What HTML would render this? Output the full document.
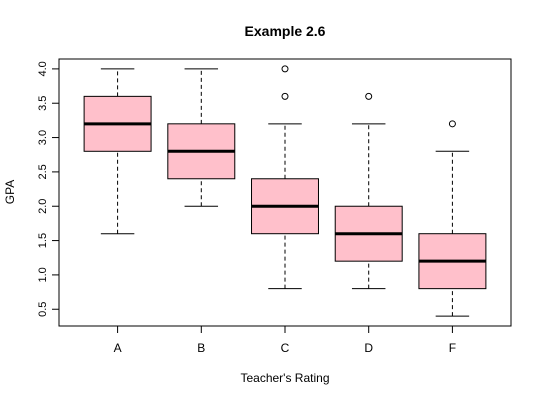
<!DOCTYPE html>
<html><head><meta charset="utf-8"><style>
body{margin:0;background:#fff}
svg{display:block;font-family:"Liberation Sans",sans-serif}
</style></head><body>
<svg id="chart" width="540" height="400">
<text x="285" y="36" text-anchor="middle" font-size="14" font-weight="bold">Example 2.6</text>
<text x="285" y="382" text-anchor="middle" font-size="12">Teacher's Rating</text>
<text transform="translate(14,192) rotate(-90)" text-anchor="middle" font-size="12">GPA</text>
<rect x="59" y="59" width="452" height="267" fill="none" stroke="#000"/>
<g id="marks"></g>
</svg>
<script>
const categories=["A","B","C","D","F"];
const lowWhisker=[1.6,2.0,0.8,0.8,0.4];
const q1=[2.8,2.4,1.6,1.2,0.8];
const medians=[3.2,2.8,2.0,1.6,1.2];
const q3=[3.6,3.2,2.4,2.0,1.6];
const highWhisker=[4.0,4.0,3.2,3.2,2.8];
const outliers=[[],[],[3.6,4.0],[3.6],[3.2]];
const yTicks=[0.5,1.0,1.5,2.0,2.5,3.0,3.5,4.0];
const ns="http://www.w3.org/2000/svg";
const g=document.getElementById('marks');
const px=59,pw=452,pt=59,ph=267;
const yMin=0.256,yMax=4.144,xMin=0.3,xMax=5.7;
function X(i){return px+(i-xMin)/(xMax-xMin)*pw;}
function Y(v){return pt+ph-(v-yMin)/(yMax-yMin)*ph;}
function el(tag,a){const e=document.createElementNS(ns,tag);for(const k in a)e.setAttribute(k,a[k]);g.appendChild(e);return e;}
const unit=pw/(xMax-xMin),bw=0.8*unit,sw=0.4*unit;
// y axis
let e=el('line',{x1:px,x2:px,y1:Y(yTicks[0]),y2:Y(yTicks[yTicks.length-1]),stroke:'#000'});


yTicks.forEach(t=>{
 let l=el('line',{x1:px-7,x2:px,y1:Y(t),y2:Y(t),stroke:'#000'});
 
 
 let tx=el('text',{transform:`translate(${px-13},${Y(t)}) rotate(-90)`,'text-anchor':'middle','font-size':'11'});
 tx.textContent=t.toFixed(1);
 
 
});
// x axis
e=el('line',{x1:X(1),x2:X(categories.length),y1:pt+ph,y2:pt+ph,stroke:'#000'});


categories.forEach((c,i)=>{
 const cx=X(i+1);
 let l=el('line',{x1:cx,x2:cx,y1:pt+ph,y2:pt+ph+7,stroke:'#000'});
 
 
 let tx=el('text',{x:cx,y:pt+ph+26,'text-anchor':'middle','font-size':'12'});
 tx.textContent=c;
 
 
 let w1=el('line',{x1:cx,x2:cx,y1:Y(lowWhisker[i]),y2:Y(q1[i]),stroke:'#000','stroke-dasharray':'4,3'});
 
 
 let w2=el('line',{x1:cx,x2:cx,y1:Y(q3[i]),y2:Y(highWhisker[i]),stroke:'#000','stroke-dasharray':'4,3'});
 
 
 let s1=el('line',{x1:cx-sw/2,x2:cx+sw/2,y1:Y(lowWhisker[i]),y2:Y(lowWhisker[i]),stroke:'#000'});
 
 
 let s2=el('line',{x1:cx-sw/2,x2:cx+sw/2,y1:Y(highWhisker[i]),y2:Y(highWhisker[i]),stroke:'#000'});
 
 
 let b=el('rect',{x:cx-bw/2,y:Y(q3[i]),width:bw,height:Y(q1[i])-Y(q3[i]),fill:'#ffc0cb',stroke:'#000'});
 
 
 let m=el('line',{x1:cx-bw/2,x2:cx+bw/2,y1:Y(medians[i]),y2:Y(medians[i]),stroke:'#000','stroke-width':3});
 
 
 outliers[i].forEach(v=>{
  let o=el('circle',{cx:cx,cy:Y(v),r:3,fill:'none',stroke:'#000'});
  
  
 });
});
</script>
</body></html>
